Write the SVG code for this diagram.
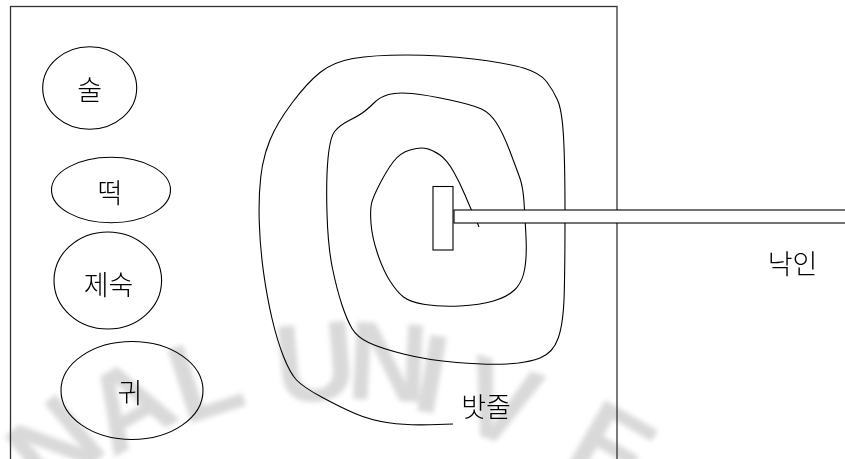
<svg xmlns="http://www.w3.org/2000/svg" width="845" height="459" viewBox="0 0 845 459">
  <style>
    .ln { fill: none; stroke: #000; stroke-width: 1.1; }
    .nd { fill: none; stroke: #000; stroke-width: 1.1; }
    .lbl { font-family: "Noto Sans CJK KR", "Noto Sans", sans-serif; font-size: 27px; font-weight: 300; fill: #000; text-anchor: middle; dominant-baseline: central; }
    .wm { font-family: "Liberation Sans", Arial, sans-serif; font-size: 112px; font-weight: bold; fill: #d9d9d9; text-anchor: middle; dominant-baseline: central; }
  </style>
  <defs>
    <filter id="blur" x="-20%" y="-20%" width="140%" height="140%">
      <feGaussianBlur stdDeviation="2.5"/>
    </filter>
  </defs>
  <rect x="0" y="0" width="845" height="459" fill="#fff"/>

  <g id="watermark" filter="url(#blur)">
    <text class="wm" x="55" y="445" transform="rotate(-40 55 445)">N</text>
    <text class="wm" x="128" y="405" transform="rotate(-30 128 405)">A</text>
    <text class="wm" x="205" y="378" transform="rotate(-18 205 378)">L</text>
    <text class="wm" x="315" y="362" transform="rotate(-5 315 362)">U</text>
    <text class="wm" x="388" y="362" transform="rotate(3 388 362)">N</text>
    <text class="wm" x="432" y="374" transform="rotate(10 432 374)">I</text>
    <text class="wm" x="500" y="402" transform="rotate(18 500 402)">V</text>
    <text class="wm" x="612" y="448" transform="rotate(30 612 448)">E</text>
  </g>

  <g id="frame">
    <rect x="10.5" y="6.5" width="606.5" height="470" fill="none" stroke="#333" stroke-width="1.3"/>
  </g>

  <g id="connectors">
    <path id="rope" class="ln" d="M453,424 L430,424.75 Q407,425.5 388.5,422.75 Q370,420 355,413.5 Q340,407 321.5,397 Q303,387 296.5,380 Q290,373 283.5,356.5 Q277,340 272,318.5 Q267,297 263.5,272 Q260,247 259.25,222 Q258.5,197 260.75,177 Q263,157 270,140 Q277,123 292,103 Q307,83 320,72.5 Q333,62 353,58.5 Q373,55 406.5,55 Q440,55 473.5,59 Q507,63 523.5,68 Q540,73 546.5,81.5 Q553,90 557.5,100 Q562,110 563.5,136.5 Q565,163 565,213 Q565,263 564.25,293 Q563.5,323 558.25,338 Q553,353 540,358 Q527,363 507,364 Q487,365 457,362.5 Q427,360 403.5,354 Q380,348 368.5,342.5 Q357,337 352,328.5 Q347,320 342,305 Q337,290 332.5,268.5 Q328,247 327,213.5 Q326,180 328,158.5 Q330,137 335,131 Q340,125 350,120 Q360,115 365,111 Q370,107 375,102 Q380,97 388.5,94.5 Q397,92 412,93.5 Q427,95 450,100 Q473,105 481.5,109 Q490,113 496.5,123 Q503,133 510,151.5 Q517,170 520,178.5 Q523,187 524,202 Q525,217 526,237 Q527,257 524.5,270 Q522,283 514.5,290 Q507,297 493.5,301 Q480,305 460,306 Q440,307 425,304.5 Q410,302 403.5,297 Q397,292 390,281 Q383,270 377.5,253.5 Q372,237 371,223.5 Q370,210 371.5,203.5 Q373,197 380,183.5 Q387,170 393.5,161.5 Q400,153 410,150 Q420,147 426.5,148.5 Q433,150 440,155 Q447,160 453.5,171.5 Q460,183 465,195 Q470,207 473.5,214.5 Q477,222 478,224.5 L479,227"/>
  </g>

  <g id="stake">
    <rect x="433" y="186.5" width="20" height="63.5" fill="#fff" stroke="#000" stroke-width="1.1"/>
    <rect x="454" y="210" width="400" height="13" fill="#fff" stroke="#000" stroke-width="1.1"/>
  </g>

  <g id="node-sul">
    <ellipse class="nd" cx="89.7" cy="88" rx="47" ry="41.3"/>
    <text class="lbl" x="89.7" y="88">술</text>
  </g>
  <g id="node-tteok">
    <ellipse class="nd" cx="111" cy="190" rx="59.5" ry="32.7"/>
    <text class="lbl" x="110" y="191">떡</text>
  </g>
  <g id="node-jesuk">
    <ellipse class="nd" cx="107.8" cy="280.5" rx="53.8" ry="48.5"/>
    <text class="lbl" x="108.5" y="283">제숙</text>
  </g>
  <g id="node-gwi">
    <ellipse class="nd" cx="132" cy="390.5" rx="71" ry="49"/>
    <text class="lbl" x="130" y="391">귀</text>
  </g>

  <g id="label-batjul">
    <text class="lbl" x="486" y="405">밧줄</text>
  </g>
  <g id="label-nagin">
    <text class="lbl" x="792.5" y="262">낙인</text>
  </g>
</svg>
